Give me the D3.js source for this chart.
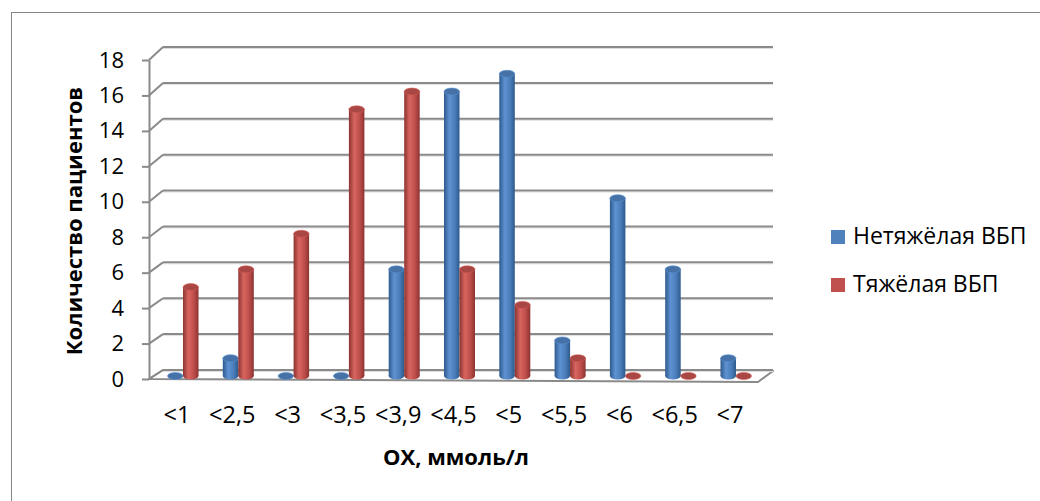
<!DOCTYPE html>
<html><head><meta charset="utf-8">
<script src="https://cdn.jsdelivr.net/npm/d3@7/dist/d3.min.js"></script>
<style>
html,body{margin:0;padding:0;background:#fff;}
svg{display:block;}
text{font-family:"Open Sans",sans-serif;fill:#000;}
</style></head>
<body>
<svg id="chart" width="1040" height="501"></svg>
<script>
const categories = ["<1","<2,5","<3","<3,5","<3,9","<4,5","<5","<5,5","<6","<6,5","<7"];
const seriesNames = ["Нетяжёлая ВБП","Тяжёлая ВБП"];
const mildValues = [0,1,0,0,6,16,17,2,10,6,1];
const severeValues = [5,6,8,15,16,6,4,1,0,0,0];
const yTickValues = [0,2,4,6,8,10,12,14,16,18];
const xTitle = "ОХ, ммоль/л";
const yTitle = "Количество пациентов";

const svg = d3.select("#chart");
const grid = "#8a8a8a";

// outer border
svg.append("rect").attr("x",11.5).attr("y",12.5).attr("width",1040).attr("height",500)
  .attr("fill","none").attr("stroke","#868686").attr("stroke-width",1);

const x = d3.scaleBand().domain(categories).range([149.35, 757.65]);
const inner = d3.scaleBand().domain(seriesNames).range([-9.5, 21.5]);
const yFront = d3.scaleLinear().domain([0,18]).range([379, 60]);
const yBack = d3.scaleLinear().domain([0,18]).range([370, 47]);
const yMid = d3.scaleLinear().domain([0,18]).range([376, 56]);
const color = d3.scaleOrdinal().domain(seriesNames).range(["#4F81BD","#C0504D"]);

const defs = svg.append("defs");
const shades = {
  "Нетяжёлая ВБП": ["#2E5A8C","#5E92D2","#4A7DBA","#2E5A8C"],
  "Тяжёлая ВБП": ["#8C3330","#D8655F","#BE4E4B","#8C3330"]
};
seriesNames.forEach((s,i)=>{
  const g = defs.append("linearGradient").attr("id","g"+i).attr("x1","0").attr("x2","1").attr("y1","0").attr("y2","0");
  [0,0.35,0.7,1].forEach((o,k)=>g.append("stop").attr("offset",o).attr("stop-color",shades[s][k]));
});

// floor
const floorPts = [[149,379],[163,370],[773,371],[758,382]];
svg.append("polygon").attr("points",floorPts.map(p=>p.join(",")).join(" "))
  .attr("fill","#fff").attr("stroke",grid).attr("stroke-width",2).attr("stroke-linejoin","round");

// back-wall gridlines (with light shadow) and side wall diagonals
const gl = svg.append("g");
yTickValues.forEach(v=>{
  gl.append("line").attr("x1",163).attr("x2",773).attr("y1",yBack(v)+1.5).attr("y2",yBack(v)+1.5)
    .attr("stroke","#dedede").attr("stroke-width",1);
  gl.append("line").attr("x1",163).attr("x2",773).attr("y1",yBack(v)).attr("y2",yBack(v))
    .attr("stroke",grid).attr("stroke-width",2);
  gl.append("line").attr("x1",149).attr("y1",yFront(v)).attr("x2",163).attr("y2",yBack(v))
    .attr("stroke",grid).attr("stroke-width",2);
});

// y axis at front-left edge
const yAxis = d3.axisLeft(yFront).tickValues(yTickValues).tickSize(7).tickSizeOuter(0).tickPadding(18).tickFormat(d3.format("d"));
const ya = svg.append("g").attr("transform","translate(149,0)").call(yAxis);
ya.select(".domain").attr("stroke",grid).attr("stroke-width",2);
ya.selectAll(".tick line").attr("stroke",grid).attr("stroke-width",2);
ya.selectAll(".tick text").attr("font-size",22).attr("font-family","Open Sans").attr("fill","#000");

// bars (cylinders)
const rows = categories.map((c,i)=>({cat:c, vals:[mildValues[i], severeValues[i]]}));
const barW = inner.bandwidth();
const ry = 3.5;
const bars = svg.append("g");
rows.forEach(r=>{
  seriesNames.forEach((s,si)=>{
    const v = r.vals[si];
    const cx = x(r.cat) + x.bandwidth()/2 + inner(s) + barW/2;
    const y0 = yMid(0), y1 = yMid(v);
    const g = bars.append("g");
    if (v > 0) {
      g.append("ellipse").attr("cx",cx).attr("cy",y0).attr("rx",barW/2).attr("ry",ry).attr("fill","url(#g"+si+")");
      g.append("rect").attr("x",cx-barW/2).attr("y",y1).attr("width",barW).attr("height",y0-y1).attr("fill","url(#g"+si+")");
    }
    g.append("ellipse").attr("cx",cx).attr("cy",y1).attr("rx",barW/2).attr("ry",ry)
      .attr("fill", d3.color(color(s)).darker(0.35)).attr("stroke", d3.color(color(s)).brighter(0.3)).attr("stroke-width",0.6);
  });
});

// x axis labels
const xAxis = d3.axisBottom(x).tickSize(0).tickPadding(0);
const xa = svg.append("g").attr("transform","translate(0,406)").call(xAxis);
xa.select(".domain").remove();
xa.selectAll(".tick text").attr("font-size",23.5).attr("font-family","Open Sans").attr("fill","#000");

// axis titles
svg.append("text").attr("x",456).attr("y",456).attr("text-anchor","middle").attr("dominant-baseline","central")
  .attr("font-size",22).attr("font-weight",700).text(xTitle);
svg.append("text").attr("transform","translate(73,221) rotate(-90)").attr("text-anchor","middle").attr("dominant-baseline","central")
  .attr("font-size",22).attr("font-weight",700).text(yTitle);

// legend
const lg = svg.append("g");
seriesNames.forEach((s,i)=>{
  const yy = 230 + i*48;
  lg.append("rect").attr("x",831).attr("y",yy).attr("width",14).attr("height",14).attr("fill",color(s));
  lg.append("text").attr("x",853).attr("y",yy+14).attr("font-size",23).text(s);
});
</script>
</body></html>
